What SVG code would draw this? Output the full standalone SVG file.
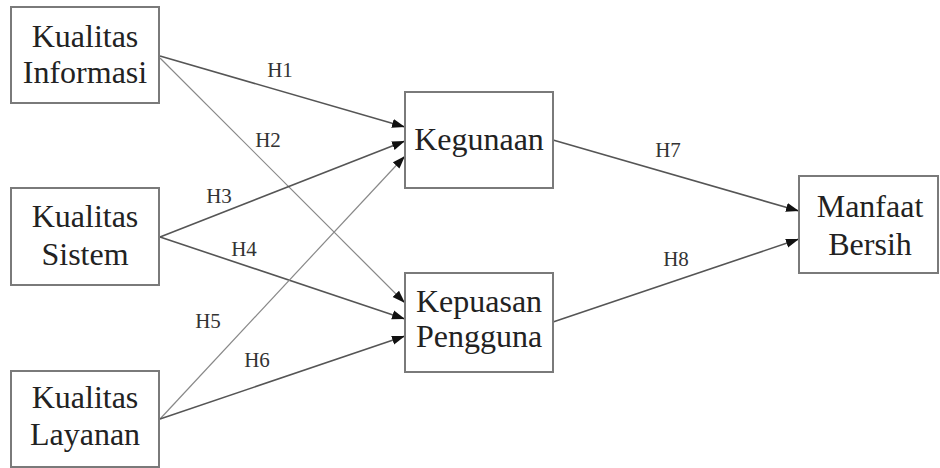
<svg xmlns="http://www.w3.org/2000/svg" width="940" height="468" viewBox="0 0 940 468">
<defs>
<marker id="ah" markerUnits="userSpaceOnUse" markerWidth="14" markerHeight="10" refX="13" refY="5" orient="auto">
<path d="M0,0.5 L13,5 L0,9.5 Z" fill="#111"/>
</marker>
<style>
.box{fill:#fff;stroke:#7a7a7a;stroke-width:2}
.t{font-family:"Liberation Serif","Times New Roman",serif;font-size:32px;fill:#222;text-anchor:middle}
.e{fill:none;stroke:#555;stroke-width:1.6;marker-end:url(#ah)}
.e2{fill:none;stroke:#888;stroke-width:1.2;marker-end:url(#ah)}
.l{font-family:"Liberation Serif","Times New Roman",serif;font-size:21px;fill:#333;text-anchor:middle}
</style>
</defs>
<rect width="940" height="468" fill="#fff"/>
<g id="connectors">
<line class="e" x1="160" y1="56" x2="405" y2="127"/>
<line class="e2" x1="160" y1="58" x2="405" y2="303"/>
<line class="e" x1="160" y1="237" x2="405" y2="141"/>
<line class="e" x1="160" y1="237" x2="405" y2="319"/>
<line class="e2" x1="160" y1="419" x2="405" y2="156"/>
<line class="e" x1="160" y1="419" x2="405" y2="336"/>
<line class="e" x1="553" y1="140" x2="799" y2="211"/>
<line class="e" x1="553" y1="322" x2="799" y2="239"/>
<text class="l" x="280" y="77">H1</text>
<text class="l" x="268" y="147">H2</text>
<text class="l" x="219" y="203">H3</text>
<text class="l" x="244" y="256">H4</text>
<text class="l" x="208" y="328">H5</text>
<text class="l" x="257" y="367">H6</text>
<text class="l" x="668" y="157">H7</text>
<text class="l" x="676" y="266">H8</text>
</g>
<g id="kualitas-informasi">
<rect class="box" x="11" y="7" width="148" height="96"/>
<text class="t" x="85" y="47">Kualitas</text>
<text class="t" x="85" y="83">Informasi</text>
</g>
<g id="kualitas-sistem">
<rect class="box" x="11" y="188" width="148" height="97"/>
<text class="t" x="85" y="227">Kualitas</text>
<text class="t" x="85" y="265">Sistem</text>
</g>
<g id="kualitas-layanan">
<rect class="box" x="11" y="371" width="148" height="96"/>
<text class="t" x="85" y="408">Kualitas</text>
<text class="t" x="85" y="445">Layanan</text>
</g>
<g id="kegunaan">
<rect class="box" x="405" y="92" width="148" height="96"/>
<text class="t" x="479" y="150">Kegunaan</text>
</g>
<g id="kepuasan-pengguna">
<rect class="box" x="405" y="273" width="148" height="99"/>
<text class="t" x="479" y="312">Kepuasan</text>
<text class="t" x="479" y="347">Pengguna</text>
</g>
<g id="manfaat-bersih">
<rect class="box" x="799" y="176" width="139" height="97"/>
<text class="t" x="870" y="217">Manfaat</text>
<text class="t" x="870" y="255">Bersih</text>
</g>
</svg>
